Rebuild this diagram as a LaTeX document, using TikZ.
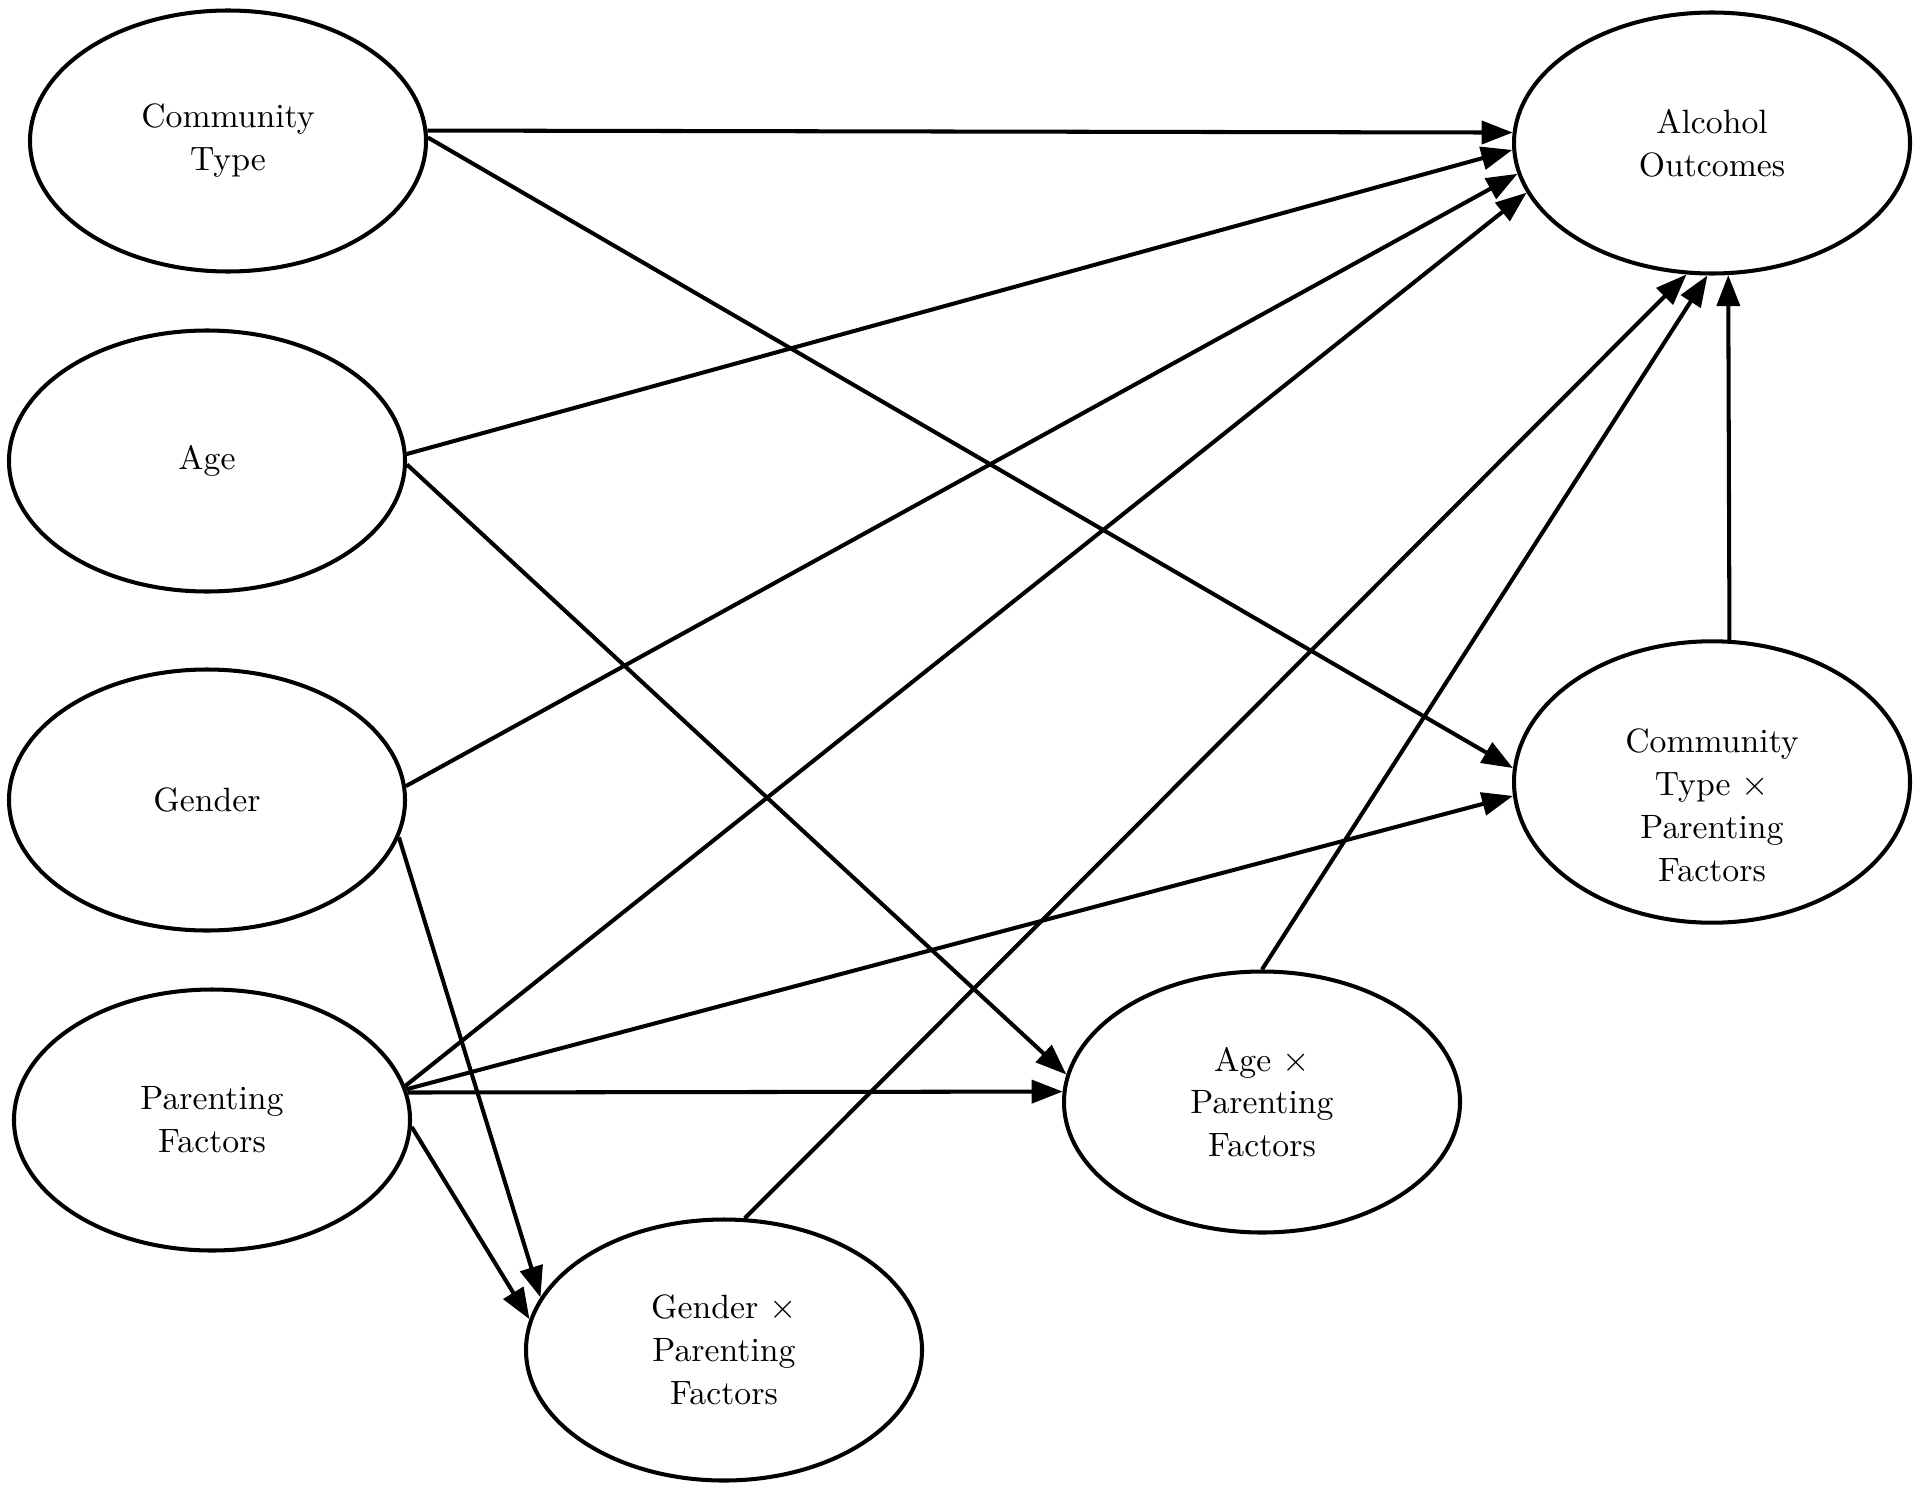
\documentclass[tikz,border=0pt]{standalone}
\usetikzlibrary{arrows.meta,shapes.geometric}
\begin{document}
\begin{tikzpicture}[
    var/.style={draw, ellipse, line width=1.15pt, minimum width=3.96cm, minimum height=2.61cm,
        inner sep=0pt, align=center, font=\fontsize{9.6}{12.2}\selectfont},
    link/.style={-{Triangle[length=3.1mm,width=2.3mm]}, line width=1.15pt}
]
    \useasboundingbox (0,0) rectangle (19.2,14.91);

    % Predictors on the left
    \node[var] (ct) at (2.28,13.50) {Community\\Type};
    \node[var] (age) at (2.07,10.30) {Age};
    \node[var] (gender) at (2.07,6.91) {Gender};
    \node[var] (pf) at (2.12,3.71) {Parenting\\Factors};

    % Interaction terms and outcome
    \node[var] (gxpf) at (7.24,1.41) {Gender $\times$\\Parenting\\Factors};
    \node[var] (axpf) at (12.62,3.89) {Age $\times$\\Parenting\\Factors};
    \node[var] (ctpf) at (17.12,7.09) {\rule{0pt}{7mm}Community\\Type $\times$\\Parenting\\Factors};
    \node[var] (ao) at (17.12,13.48) {Alcohol\\Outcomes};

    % Direct paths to the outcome
    \draw[link] (ct.3) -- (ao.177);
    \draw[link] (age.2) -- (ao.182);
    \draw[link] (gender.4) -- (ao.189);
    \draw[link] (pf.10) -- (ao.195);

    % Paths into the interaction terms
    \draw[link] (ct.1) -- (ctpf.176);
    \draw[link] (pf.9) -- (ctpf.184);
    \draw[link] (age.-1) -- (axpf.172);
    \draw[link] (pf.8) -- (axpf.177);
    \draw[link] (gender.-11) -- (gxpf.164);
    \draw[link] (pf.-2) -- (gxpf.171);

    % Interaction terms to the outcome
    \draw[link] (gxpf.81) -- (ao.259);
    \draw[link] (axpf.90) -- (ao.268);
    \draw[link] (ctpf.83) -- (ao.277);
\end{tikzpicture}
\end{document}
